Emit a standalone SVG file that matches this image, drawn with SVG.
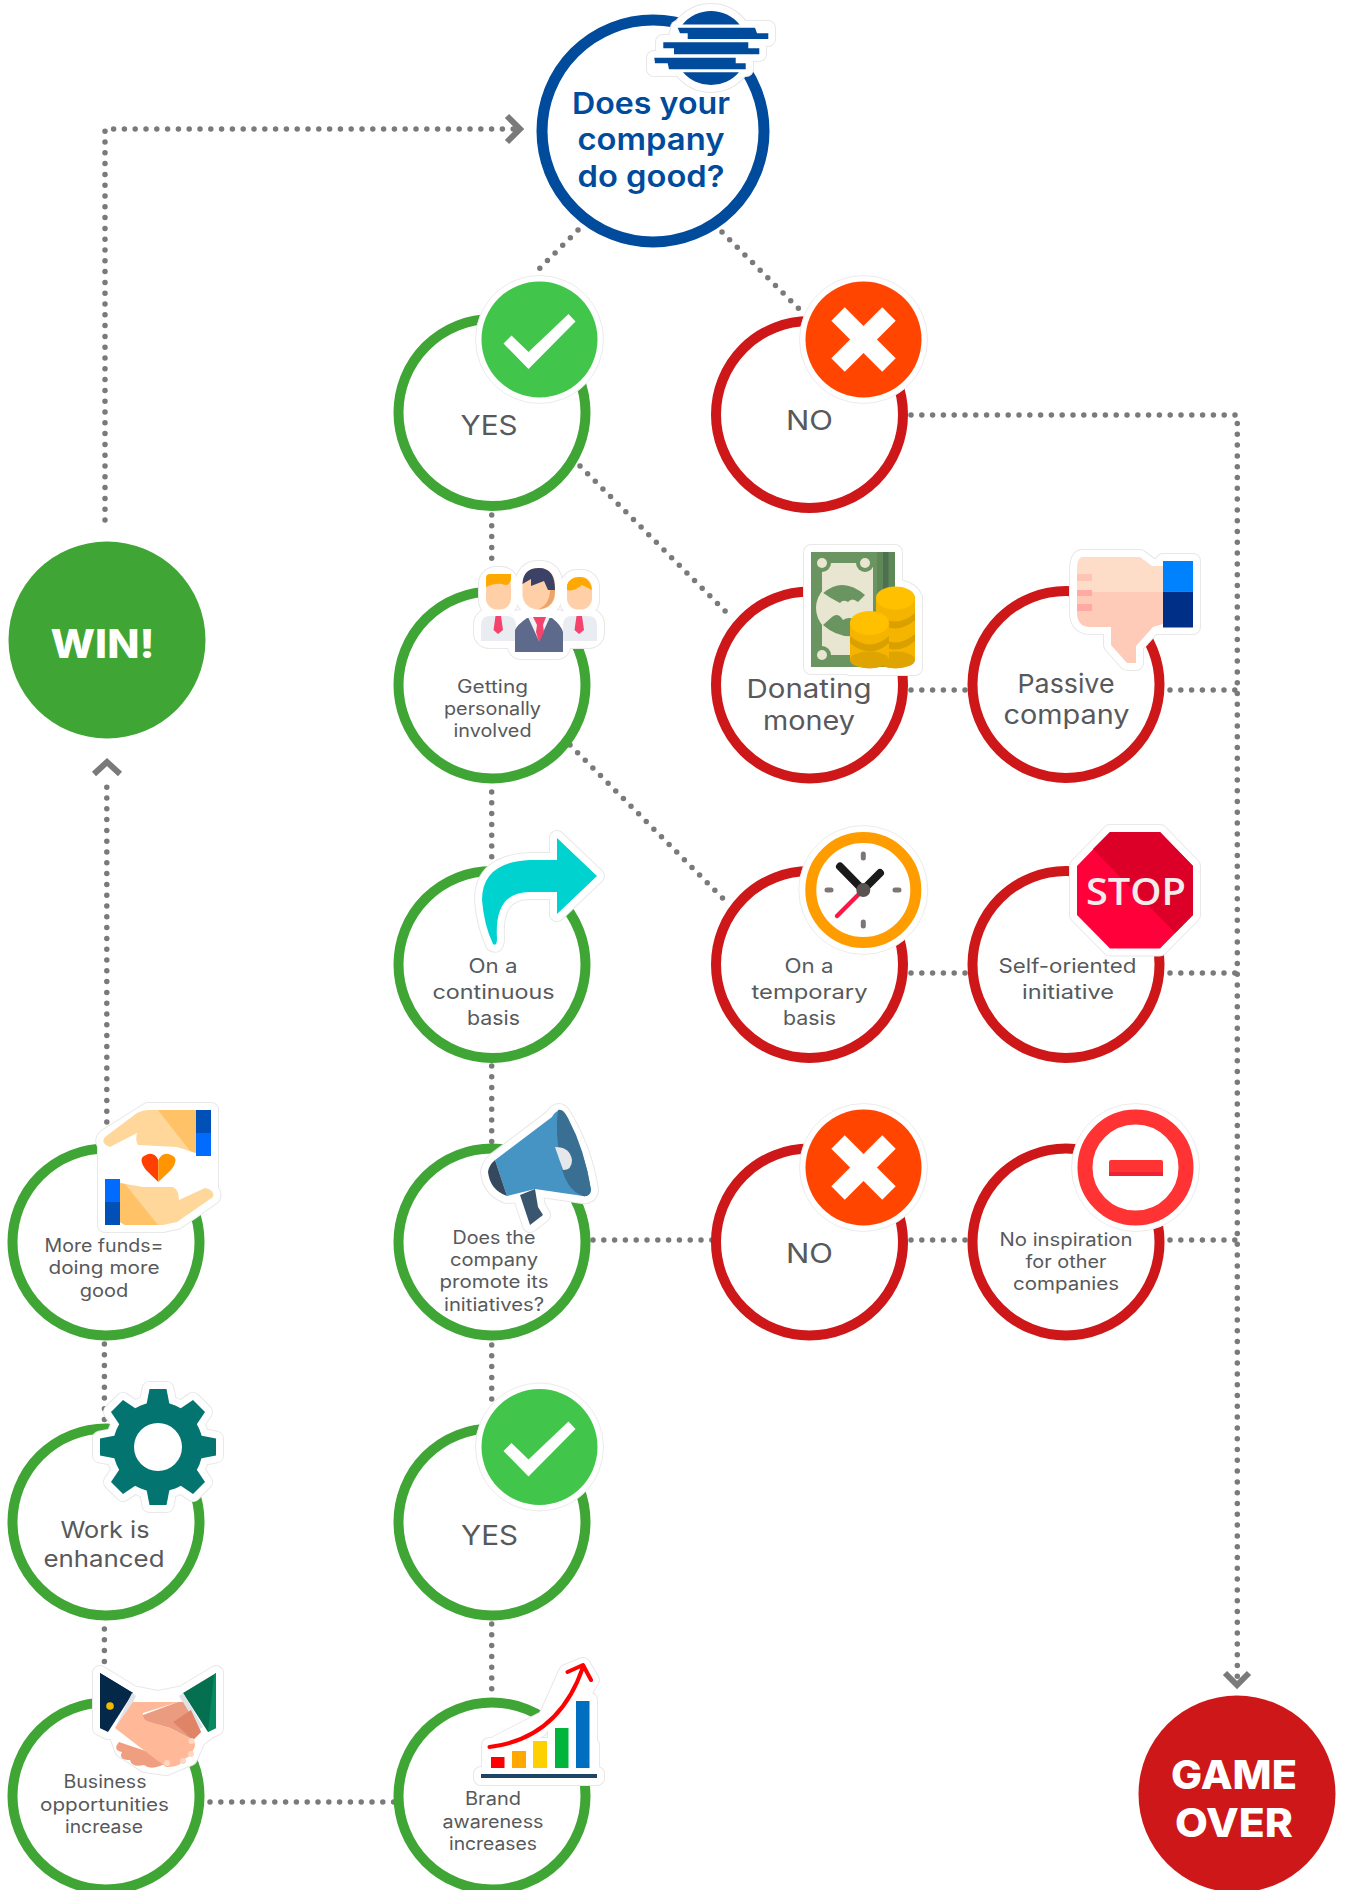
<svg xmlns="http://www.w3.org/2000/svg" width="1346" height="1890" viewBox="0 0 1346 1890">
<style>
text{font-family:"Inter","Noto Sans","Liberation Sans",sans-serif;text-anchor:middle;fill:#58595b}
.q{fill:#004b9b;font-weight:600;font-size:30px}
.w{fill:#fff;font-weight:800}
.s18{font-size:18px}.s20{font-size:20px}.s23{font-size:23px}.s26{font-size:26px}.s27{font-size:27px}
.ring{fill:#fff;stroke-width:10}
.g{stroke:#3fa535}.r{stroke:#cd1719}.b{stroke:#004b9b;stroke-width:11}
.dot{fill:none;stroke:#7a7a7a;stroke-width:5.5;stroke-linecap:round;stroke-dasharray:0 10.8}
.chev{fill:none;stroke:#7a7a7a;stroke-width:6}
.h1{fill:#e8e8e8;stroke:#e8e8e8;stroke-width:16;stroke-linejoin:round}
.h2{fill:#fff;stroke:#fff;stroke-width:14;stroke-linejoin:round}
.hc{fill:#fff;stroke:#ececec;stroke-width:1}
.tick{stroke:#7d7672;stroke-width:5;stroke-linecap:round}
</style>
<defs>
<g id="check"><circle r="64" class="hc"/><circle r="58" fill="#41c54a"/><polygon points="-36,4 -28,-4 -11,12.500 29,-25.500 36,-18 -11,29.500" fill="#fff"/></g>
<g id="cross"><circle r="64" class="hc"/><circle r="58" fill="#ff4500"/><g fill="#fff"><rect x="-36" y="-9.500" width="72" height="19" transform="rotate(45)"/><rect x="-36" y="-9.500" width="72" height="19" transform="rotate(-45)"/></g></g>
<g id="logoS"><circle cx="711" cy="48" r="37"/><rect x="678" y="28" width="90" height="11"/><rect x="663" y="42" width="96" height="12"/><rect x="654" y="58" width="92" height="11"/></g>
<g id="peopleS"><rect x="486" y="574" width="25" height="36" rx="10"/><rect x="523" y="568" width="32" height="42" rx="14"/><rect x="567" y="577" width="25" height="33" rx="10"/><rect x="481" y="616" width="35" height="25" rx="8"/><rect x="563" y="616" width="34" height="25" rx="8"/><rect x="515" y="617" width="48" height="35" rx="6"/></g>
<g id="moneyS"><rect x="811" y="552" width="84" height="115"/><ellipse cx="895" cy="600" rx="20" ry="13"/><rect x="850" y="623" width="39" height="45"/><rect x="876" y="598" width="39" height="70"/></g>
<path id="thumbS" d="M1083,557H1140L1152,566H1163V561H1193V627H1153L1136,646V663H1127L1111,645V627H1090Q1077,627 1077,612V570Q1077,557 1083,557Z"/>
<path id="arrowS" d="M597,876L557,838V860H530Q482,862 482,900Q484,925 493,944Q497,947 497,938Q494,892 530,892H557V914Z"/>
<polygon id="stopS" points="1110,832 1160,832 1193,866 1193,915 1160,948.500 1110,948.500 1077,915 1077,866"/>
<path id="megaS" d="M495,1160L552,1117Q558,1107 563,1114Q585,1150 591,1190Q590,1197 583,1196L535,1189L538,1207L543,1215L530,1225L520,1195L507,1196Q490,1190 488,1172Q489,1165 495,1160Z"/>
<g id="heartS"><path d="M105,1137L148,1110H196V1110H211V1156H196V1153L177,1147L138,1145L137,1133L110,1147Q100,1143 105,1137Z"/><path d="M105,1179H120V1183L173,1189L179,1200L205,1188Q215,1190 213,1197L177,1222L163,1225H120H105Z"/><rect x="105" y="1140" width="106" height="50"/></g>
<g id="gearS"><circle r="45"/><polygon points="-12,-40 -8.500,-58 8.500,-58 12,-40"/><polygon points="-12,-40 -8.500,-58 8.500,-58 12,-40" transform="rotate(45)"/><polygon points="-12,-40 -8.500,-58 8.500,-58 12,-40" transform="rotate(90)"/><polygon points="-12,-40 -8.500,-58 8.500,-58 12,-40" transform="rotate(135)"/><polygon points="-12,-40 -8.500,-58 8.500,-58 12,-40" transform="rotate(180)"/><polygon points="-12,-40 -8.500,-58 8.500,-58 12,-40" transform="rotate(225)"/><polygon points="-12,-40 -8.500,-58 8.500,-58 12,-40" transform="rotate(270)"/><polygon points="-12,-40 -8.500,-58 8.500,-58 12,-40" transform="rotate(315)"/></g>
<g id="shakeS"><polygon points="100,1673 133,1693 158,1698 183,1693 216,1673 216,1728 208,1732 198,1740 190,1758 166,1768 145,1765 122,1750 115,1730 108,1732 100,1728"/></g>
<g id="chartS"><rect x="481" y="1774" width="116" height="4"/><rect x="489" y="1745" width="103" height="29"/><rect x="555" y="1700" width="35" height="50"/><polygon points="489,1747 540,1730 566,1672 583,1665 592,1680 580,1700"/></g>
</defs>

<g id="connectors">
<path class="dot" d="M105,520V129H519"/>
<path class="chev" d="M507,116L520,129L507,142"/>
<path class="dot" d="M578,230L535,273"/>
<path class="dot" d="M722,232L801,311"/>
<path class="dot" d="M911,415H1237.300V1680"/>
<path class="chev" d="M1225,1673L1237,1685L1249,1673"/>
<path class="dot" d="M491.700,515V562"/>
<path class="dot" d="M580,466L728,614"/>
<path class="dot" d="M570,745L729,904.500"/>
<path class="dot" d="M491.700,792V858"/>
<path class="dot" d="M491.700,1066V1146"/>
<path class="dot" d="M593,1240H720"/>
<path class="dot" d="M911,1240H975"/>
<path class="dot" d="M1170,1240H1237"/>
<path class="dot" d="M911,690H975"/>
<path class="dot" d="M1170,690H1237"/>
<path class="dot" d="M911,973H975"/>
<path class="dot" d="M1170,973H1237"/>
<path class="dot" d="M491.700,1345V1403"/>
<path class="dot" d="M491.700,1624V1690"/>
<path class="dot" d="M210,1802H402"/>
<path class="dot" d="M104.400,1629V1662"/>
<path class="dot" d="M104.400,1344V1425"/>
<path class="dot" d="M106.800,1122V784"/>
<path class="chev" d="M94,774L107,762L120,774"/>
</g>

<g id="node-main">
<circle class="ring b" cx="653" cy="131" r="111"/>
<use href="#logoS" class="h1"/><use href="#logoS" class="h2"/>
<g fill="#004b9b">
<path d="M682.400,24.500A37,37 0 0 1 739.600,24.500Z"/>
<path d="M683,72.300A37,37 0 0 0 739,72.300Z"/>
<polygon points="677.700,27.700 755,27.700 757,33.300 768.300,33.300 768.300,39 687.700,39 687.700,33.300 680,33.300"/>
<polygon points="663.300,42.300 748.300,42.300 748.300,48.300 759.300,48.300 759.300,54.300 674,54.300 674,48.300 663.300,48.300"/>
<polygon points="654.300,57.700 735.700,57.700 735.700,63.300 745.700,63.300 745.700,69.300 669,69.300 667.700,63.300 655,63.300"/>
</g>
<text class="q" x="651" y="114" textLength="158" lengthAdjust="spacingAndGlyphs">Does your</text>
<text class="q" x="651" y="150" textLength="147" lengthAdjust="spacingAndGlyphs">company</text>
<text class="q" x="651" y="187" textLength="147" lengthAdjust="spacingAndGlyphs">do good?</text>
</g>

<g id="node-yes1">
<circle class="ring g" cx="492" cy="412.500" r="93.500"/>
<use href="#check" x="539.500" y="339.500"/>
<text class="s27" x="489" y="435" textLength="57" lengthAdjust="spacingAndGlyphs">YES</text>
</g>

<g id="node-no1">
<circle class="ring r" cx="809.500" cy="414.500" r="93.500"/>
<use href="#cross" x="863.500" y="339.500"/>
<text class="s27" x="809.500" y="430" textLength="47" lengthAdjust="spacingAndGlyphs">NO</text>
</g>

<g id="node-getting">
<circle class="ring g" cx="492" cy="685" r="93.500"/>
<use href="#peopleS" class="h1"/><use href="#peopleS" class="h2"/>
<path d="M481,641V625Q481,616 490,616H507Q516,616 516,625V641Z" fill="#e9edf2"/>
<path d="M563,641V625Q563,616 572,616H588Q597,616 597,625V641Z" fill="#e9edf2"/>
<polygon points="495.500,616 501,616 503,630 498,634 493.500,630" fill="#f4436c"/>
<polygon points="576.500,616 582,616 584,630 579,634 574.500,630" fill="#f4436c"/>
<rect x="486" y="574" width="25" height="35.500" rx="11" fill="#ffd0a8"/>
<path d="M486,587V578Q486,574 490,574H511V580Q509,587 502,584Q494,583 486,587Z" fill="#ffa800"/>
<rect x="567" y="577" width="25" height="32.500" rx="11" fill="#ffd0a8"/>
<path d="M567,590V585Q570,577 579.500,577Q590,577 592,590L582,585Q574,592 567,590Z" fill="#ffa800"/>
<rect x="522.500" y="568" width="32.500" height="41.500" rx="15" fill="#ffd0a8"/>
<path d="M555,590Q555,608 538,609.500Q550,604 550,590Z" fill="#eda46b"/>
<path d="M522.500,584Q523,568 539,568Q555,568 555,590H548L544,581L531,586L531,579Z" fill="#3b4266"/>
<path d="M515,652V630Q517,625 527,618H552Q561,625 563,632V652Z" fill="#5e6a8c"/>
<polygon points="528,617 550,617 539,641" fill="#f0f2f5"/>
<polygon points="533,617 546,617 543,625 544,632 539,642 536,632 537,625" fill="#f4436c"/>
<text class="s18" x="492.500" y="693" textLength="71" lengthAdjust="spacingAndGlyphs">Getting</text>
<text class="s18" x="492.500" y="715" textLength="97" lengthAdjust="spacingAndGlyphs">personally</text>
<text class="s18" x="492.500" y="736.500" textLength="78" lengthAdjust="spacingAndGlyphs">involved</text>
</g>

<g id="node-donating">
<circle class="ring r" cx="809.500" cy="685" r="93.500"/>
<use href="#moneyS" class="h1"/><use href="#moneyS" class="h2"/>
<rect x="811" y="552" width="84" height="115" fill="#6a9460"/>
<rect x="877" y="552" width="18" height="50" fill="#5f8858"/>
<rect x="883" y="552" width="5.500" height="50" fill="#4f7050"/>
<rect x="822" y="563" width="51" height="92" fill="#e8e6d0"/>
<circle cx="822" cy="563" r="9" fill="#6a9460"/><circle cx="865" cy="563" r="9" fill="#6a9460"/><circle cx="822" cy="655" r="9" fill="#6a9460"/>
<rect x="873" y="552" width="4" height="50" fill="#6a9460"/>
<circle cx="822" cy="563" r="5" fill="#e8e6d0"/><circle cx="865" cy="563" r="5" fill="#e8e6d0"/><circle cx="822" cy="655" r="5" fill="#e8e6d0"/>
<circle cx="843" cy="608" r="27" fill="#e8e6d0"/>
<path d="M823.300,593Q843,576 865,595L858,602Q852,597 848,602Q843,599 840,603Q830,598 823.300,593Z" fill="#6a9460"/>
<path d="M823,625Q840,640 860,635L858,622Q850,615 843,620Q838,612 832,617Z" fill="#6a9460"/>
<rect x="876" y="598" width="39" height="62" fill="#f5b400"/><ellipse cx="895.500" cy="660" rx="19.500" ry="8.500" fill="#e0a400"/>
<path d="M876,613Q895,630 915,613V620Q895,637 876,620ZM876,634Q895,651 915,634V641Q895,658 876,641Z" fill="#d9a000"/>
<ellipse cx="895.500" cy="598" rx="19.500" ry="11.500" fill="#ffc000"/>
<rect x="850" y="623" width="39" height="37" fill="#f5b400"/><ellipse cx="869.500" cy="660" rx="19.500" ry="8.500" fill="#e0a400"/>
<path d="M850,636Q870,653 889,636V643Q870,660 850,643Z" fill="#d9a000"/>
<ellipse cx="869.500" cy="623" rx="19.500" ry="12" fill="#ffc000"/>
<text class="s26" x="809" y="698" textLength="125" lengthAdjust="spacingAndGlyphs">Donating</text>
<text class="s26" x="809" y="730" textLength="92" lengthAdjust="spacingAndGlyphs">money</text>
</g>

<g id="node-passive">
<circle class="ring r" cx="1066" cy="684.500" r="93.500"/>
<use href="#thumbS" class="h1"/><use href="#thumbS" class="h2"/>
<path d="M1083,557H1140L1152,566H1163V591.500H1077V570Q1077,557 1083,557Z" fill="#fddcc8"/>
<path d="M1077,591.500H1163V624L1153,627L1136,646V663H1127L1111,645V627H1090Q1077,627 1077,612Z" fill="#fecbb8"/>
<rect x="1077" y="574" width="15" height="7" fill="#fec5b5"/><rect x="1077" y="590" width="15" height="6" fill="#ffaaa5"/><rect x="1077" y="604" width="15" height="7" fill="#ffaaa5"/>
<rect x="1163" y="561" width="30" height="30.500" fill="#0082ff"/><rect x="1163" y="591.500" width="30" height="36" fill="#002f87"/>
<text class="s26" x="1066" y="693" textLength="97" lengthAdjust="spacingAndGlyphs">Passive</text>
<text class="s26" x="1066.500" y="724" textLength="126" lengthAdjust="spacingAndGlyphs">company</text>
</g>

<g id="node-continuous">
<circle class="ring g" cx="492" cy="964.500" r="93.500"/>
<use href="#arrowS" class="h1"/><use href="#arrowS" class="h2"/>
<use href="#arrowS" fill="#00d2d0"/>
<text class="s20" x="493" y="973" textLength="49" lengthAdjust="spacingAndGlyphs">On a</text>
<text class="s20" x="493.500" y="999" textLength="122" lengthAdjust="spacingAndGlyphs">continuous</text>
<text class="s20" x="493.500" y="1025" textLength="53" lengthAdjust="spacingAndGlyphs">basis</text>
</g>

<g id="node-temporary">
<circle class="ring r" cx="809.500" cy="964.500" r="93.500"/>
<circle cx="863.300" cy="890" r="64.500" class="hc"/>
<circle cx="863.300" cy="890" r="52.500" fill="#fff" stroke="#ff9c00" stroke-width="11"/>
<path class="tick" d="M863.300,854V858M863.300,922V926M827,890H831M895,890H899"/>
<path d="M840,866.500L863,890L880,873" fill="none" stroke="#1a1a1a" stroke-width="8" stroke-linecap="round" stroke-linejoin="round"/>
<path d="M837,916L863,890" stroke="#ff1744" stroke-width="4.500" stroke-linecap="round"/>
<circle cx="863.300" cy="890" r="7" fill="#5a5352"/>
<text class="s20" x="809" y="973" textLength="49" lengthAdjust="spacingAndGlyphs">On a</text>
<text class="s20" x="809.500" y="999" textLength="116" lengthAdjust="spacingAndGlyphs">temporary</text>
<text class="s20" x="809.500" y="1025" textLength="53" lengthAdjust="spacingAndGlyphs">basis</text>
</g>

<g id="node-self">
<circle class="ring r" cx="1066" cy="964.500" r="93.500"/>
<use href="#stopS" class="h1"/><use href="#stopS" class="h2"/>
<use href="#stopS" fill="#ff003a"/>
<polygon points="1110,832 1160,832 1193,866 1193,915 1175,933 1093,849" fill="#dc0028"/>
<text x="1136" y="904.500" textLength="100" lengthAdjust="spacingAndGlyphs" style="font-family:'Open Sans','Liberation Sans',sans-serif;font-weight:600;font-size:38px;fill:#f3ecec">STOP</text>
<text class="s20" x="1067.500" y="973" textLength="138" lengthAdjust="spacingAndGlyphs">Self-oriented</text>
<text class="s20" x="1068" y="999" textLength="92" lengthAdjust="spacingAndGlyphs">initiative</text>
</g>

<g id="node-win">
<circle cx="107" cy="640" r="98.500" fill="#3fa535"/>
<text class="w" x="102.500" y="658" textLength="104" lengthAdjust="spacingAndGlyphs" style="font-size:39px">WIN!</text>
</g>

<g id="node-funds">
<circle class="ring g" cx="106" cy="1242" r="93.500"/>
<use href="#heartS" class="h1"/><use href="#heartS" class="h2"/>
<path d="M105,1137L137,1113Q143,1110 148,1110H196V1153L177,1147L138,1145Q135,1140 137,1133L110,1147Q100,1143 105,1137Z" fill="#ffd79b"/>
<polygon points="158,1110 196,1110 196,1153 190,1151" fill="#ffc266"/>
<rect x="196" y="1110" width="15" height="23" fill="#0050b8"/><rect x="196" y="1133" width="15" height="23" fill="#006cff"/>
<path d="M120,1183L143,1187H173Q179,1190 179,1200L205,1188Q215,1190 213,1197L177,1222L163,1225H125L120,1222Z" fill="#ffd79b"/>
<polygon points="120,1183 125,1184 158,1225 125,1225 120,1222" fill="#ffc266"/>
<rect x="105" y="1179" width="15" height="23" fill="#006cff"/><rect x="105" y="1202" width="15" height="23" fill="#0050b8"/>
<path d="M158.300,1182L146,1170Q137,1158 146,1155Q154,1151 158.300,1160Z" fill="#ff4000"/>
<path d="M158.300,1182L171,1170Q180,1158 171,1155Q163,1151 158.300,1160Z" fill="#ff9500"/>
<text class="s18" x="104" y="1252" textLength="119" lengthAdjust="spacingAndGlyphs">More funds=</text>
<text class="s18" x="104" y="1274" textLength="111" lengthAdjust="spacingAndGlyphs">doing more</text>
<text class="s18" x="104" y="1297" textLength="48.500" lengthAdjust="spacingAndGlyphs">good</text>
</g>

<g id="node-promote">
<circle class="ring g" cx="492" cy="1242" r="93.500"/>
<use href="#megaS" class="h1"/><use href="#megaS" class="h2"/>
<path d="M520,1195L535,1189L538,1207L543,1215L530,1225Z" fill="#3a566f"/>
<path d="M495,1160L552,1117Q558,1107 563,1114Q585,1150 591,1190Q590,1197 583,1196L535,1189L507,1196Z" fill="#4694c4"/>
<path d="M558,1110Q563,1108 568,1118Q585,1150 591,1190Q590,1197 583,1196Q565,1190 560,1160Q555,1130 558,1110Z" fill="#3a6f94"/>
<path d="M495,1160L507,1196Q490,1190 488,1172Q489,1165 495,1160Z" fill="#34495e"/>
<path d="M555,1147Q570,1147 572,1160Q572,1170 563,1170Z" fill="#e6e7ea"/>
<text class="s18" x="494" y="1244" textLength="83" lengthAdjust="spacingAndGlyphs">Does the</text>
<text class="s18" x="494" y="1266" textLength="88" lengthAdjust="spacingAndGlyphs">company</text>
<text class="s18" x="494" y="1288" textLength="109" lengthAdjust="spacingAndGlyphs">promote its</text>
<text class="s18" x="494" y="1311" textLength="100" lengthAdjust="spacingAndGlyphs">initiatives?</text>
</g>

<g id="node-no2">
<circle class="ring r" cx="809.500" cy="1242" r="93.500"/>
<use href="#cross" x="863.500" y="1167.500"/>
<text class="s27" x="809.500" y="1263" textLength="47" lengthAdjust="spacingAndGlyphs">NO</text>
</g>

<g id="node-inspiration">
<circle class="ring r" cx="1066" cy="1242" r="93.500"/>
<circle cx="1135.500" cy="1167.500" r="64" class="hc"/>
<circle cx="1135.500" cy="1167.500" r="50.500" fill="#fff" stroke="#ff3333" stroke-width="15"/>
<rect x="1109" y="1160" width="54" height="16" rx="2" fill="#ff3333"/>
<rect x="1109" y="1172" width="54" height="4" fill="#ee2233"/>
<text class="s18" x="1066" y="1246" textLength="133" lengthAdjust="spacingAndGlyphs">No inspiration</text>
<text class="s18" x="1066" y="1268" textLength="81" lengthAdjust="spacingAndGlyphs">for other</text>
<text class="s18" x="1066" y="1290" textLength="106" lengthAdjust="spacingAndGlyphs">companies</text>
</g>

<g id="node-work">
<circle class="ring g" cx="106" cy="1522" r="93.500"/>
<use href="#gearS" x="158" y="1447" class="h1"/><use href="#gearS" x="158" y="1447" class="h2"/>
<use href="#gearS" x="158" y="1447" fill="#047470"/>
<circle cx="158" cy="1447" r="24" fill="#fff"/>
<text class="s23" x="105" y="1538" textLength="89" lengthAdjust="spacingAndGlyphs">Work is</text>
<text class="s23" x="104" y="1567" textLength="121" lengthAdjust="spacingAndGlyphs">enhanced</text>
</g>

<g id="node-yes2">
<circle class="ring g" cx="492" cy="1522" r="93.500"/>
<use href="#check" x="539.500" y="1447"/>
<text class="s27" x="489.500" y="1545" textLength="57" lengthAdjust="spacingAndGlyphs">YES</text>
</g>

<g id="node-business">
<circle class="ring g" cx="106" cy="1796" r="93.500"/>
<use href="#shakeS" class="h1"/><use href="#shakeS" class="h2"/>
<polygon points="100,1673 133,1693 108,1732 100,1728" fill="#06284c"/>
<polygon points="100,1673 133,1693 118,1700 105,1730 100,1728" fill="#032848"/>
<circle cx="110" cy="1706" r="3.800" fill="#f5b800"/>
<polygon points="216,1673 183,1693 208,1732 216,1728" fill="#05704f"/>
<polygon points="216,1673 214,1675 208,1732 216,1728" fill="#078a5f"/>
<polygon points="132,1693 136,1696 120,1730 115,1728" fill="#dfe3e8"/>
<polygon points="183,1693 179,1696 198,1730 203,1727" fill="#dfe3e8"/>
<path d="M119,1742Q112,1750 122,1752Q118,1760 130,1760Q132,1768 144,1765Q150,1770 160,1766L172,1760Z" fill="#ef9f7f"/>
<path d="M143,1715L178,1702L183,1702L201,1732L193,1740L170,1728L148,1722Q142,1720 143,1715Z" fill="#eb9c80"/>
<polygon points="173,1722 191,1710 201,1732 193,1740" fill="#e08468"/>
<path d="M115,1728L133,1702L178,1702L143,1713Q142,1720 150,1722L170,1728L193,1740Q197,1745 193,1750Q192,1756 186,1758Q180,1768 166,1767Q150,1755 115,1728Z" fill="#ffb998"/>
<circle cx="191.500" cy="1741" r="3" fill="#ffd6c2"/><circle cx="191" cy="1754" r="3" fill="#ffd6c2"/><circle cx="183" cy="1761" r="3" fill="#ffd6c2"/><circle cx="167" cy="1763" r="3" fill="#ffd6c2"/>
<text class="s18" x="105" y="1788" textLength="83" lengthAdjust="spacingAndGlyphs">Business</text>
<text class="s18" x="104.500" y="1811" textLength="129" lengthAdjust="spacingAndGlyphs">opportunities</text>
<text class="s18" x="104" y="1833" textLength="78" lengthAdjust="spacingAndGlyphs">increase</text>
</g>

<g id="node-brand">
<circle class="ring g" cx="492" cy="1796" r="93.500"/>
<use href="#chartS" class="h1"/><use href="#chartS" class="h2"/>
<rect x="491" y="1757" width="13.500" height="11" fill="#f00"/>
<rect x="512" y="1751" width="14" height="17" fill="#ffa800"/>
<rect x="533" y="1741" width="14" height="27" fill="#ffd000"/>
<rect x="555" y="1728" width="13.500" height="40" fill="#00b43c"/>
<rect x="576" y="1701" width="13.500" height="67" fill="#006fc0"/>
<rect x="481" y="1774" width="116" height="4" fill="#1e4664"/>
<path d="M489.500,1747C530,1742 565,1720 583,1667M567.500,1672L583,1665L591,1680" fill="none" stroke="#f00" stroke-width="4" stroke-linecap="round" stroke-linejoin="round"/>
<text class="s18" x="493" y="1805" textLength="56" lengthAdjust="spacingAndGlyphs">Brand</text>
<text class="s18" x="493" y="1828" textLength="101" lengthAdjust="spacingAndGlyphs">awareness</text>
<text class="s18" x="493" y="1850" textLength="88" lengthAdjust="spacingAndGlyphs">increases</text>
</g>

<g id="node-gameover">
<circle cx="1237" cy="1794" r="98.500" fill="#cd1719"/>
<text class="w" x="1234" y="1789" textLength="126" lengthAdjust="spacingAndGlyphs" style="font-size:39px">GAME</text>
<text class="w" x="1234" y="1837" textLength="118" lengthAdjust="spacingAndGlyphs" style="font-size:39px">OVER</text>
</g>
</svg>
